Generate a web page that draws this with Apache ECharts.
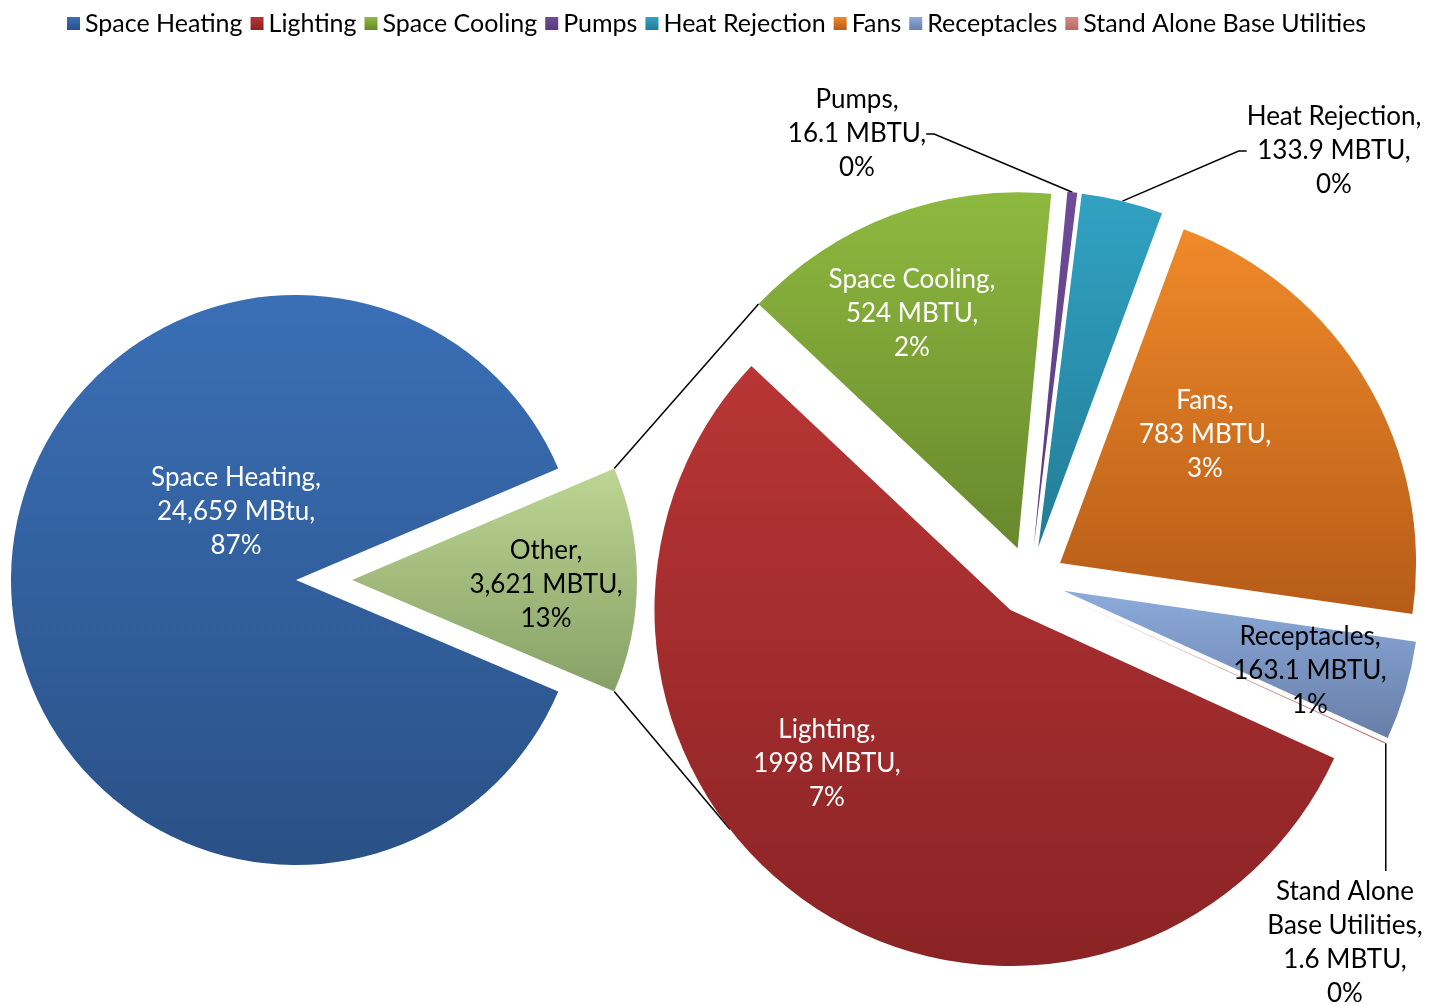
<!DOCTYPE html>
<html>
<head>
<meta charset="utf-8">
<script src="https://cdn.jsdelivr.net/npm/echarts@6/dist/echarts.min.js"></script>
<style>
html, body { margin: 0; padding: 0; background: #fff; }
#main { width: 1447px; height: 1005px; }
</style>
</head>
<body>
<div id="main"></div>
<script>
// main pie (clockwise from 3 o'clock: Other, then Space Heating)
var mainNames = ['Other', 'Space Heating'];
var mainValues = [3621, 24659];
var mainUnits = ['MBTU', 'MBtu'];

// breakdown of "Other" (clockwise, as drawn)
var otherNames = ['Space Cooling', 'Pumps', 'Heat Rejection', 'Fans', 'Receptacles', 'Stand Alone Base Utilities', 'Lighting'];
var otherValues = [524, 16.1, 133.9, 783, 163.1, 1.6, 1998];

var legendNames = ['Space Heating', 'Lighting', 'Space Cooling', 'Pumps', 'Heat Rejection', 'Fans', 'Receptacles', 'Stand Alone Base Utilities'];

// layout
var FONT = "'Gill Sans', Lato, sans-serif";
var leftCenter = [296, 580], leftR = 285, otherOffset = 56;
var rightCenter = [1030, 581], rightR = 356, rightOffset = 35, rightStart = 136.7;
var bottomLinkAngle = 218;

var colors = {
    'Space Heating': ['#3a6fb6', '#2a5186'],
    'Other': ['#bdd693', '#87a066'],
    'Lighting': ['#b93535', '#8a2325'],
    'Space Cooling': ['#8eb93f', '#68882d'],
    'Pumps': ['#6e4c98', '#583b7e'],
    'Heat Rejection': ['#31a2c2', '#227d97'],
    'Fans': ['#f08a2a', '#b65c18'],
    'Receptacles': ['#8cabdb', '#687ea8'],
    'Stand Alone Base Utilities': ['#d48a8a', '#b86a6a']
};
var whiteText = ['Space Heating', 'Lighting', 'Space Cooling', 'Fans'];
var outsideLabels = ['Pumps', 'Heat Rejection', 'Stand Alone Base Utilities'];
var verticalLeader = ['Stand Alone Base Utilities'];
var labelPos = {
    'Space Heating': [236, 512],
    'Other': [546, 585],
    'Lighting': [827, 764],
    'Space Cooling': [912, 314],
    'Pumps': [857, 134],
    'Heat Rejection': [1334, 151],
    'Fans': [1205, 435],
    'Receptacles': [1310, 671],
    'Stand Alone Base Utilities': [1345, 943]
};

var grandTotal = mainValues[0] + mainValues[1];

function sum(arr) {
    return arr.reduce(function (a, b) { return a + b; }, 0);
}

function grad(name) {
    return {
        type: 'linear', x: 0, y: 0, x2: 0, y2: 1,
        colorStops: [{offset: 0, color: colors[name][0]}, {offset: 1, color: colors[name][1]}]
    };
}

function polar(c, r, deg) {
    var a = deg * Math.PI / 180;
    return [c[0] + r * Math.cos(a), c[1] - r * Math.sin(a)];
}

function blank(v) {
    return {
        value: v, name: '',
        itemStyle: {color: 'rgba(0,0,0,0)'},
        label: {show: false}, labelLine: {show: false}
    };
}

// one pie series per slice, so each slice can be pulled out on its own
function sliceSeries(names, values, k, center, r, start, offset, unitFn) {
    var total = sum(values);
    var before = sum(values.slice(0, k));
    var after = sum(values.slice(k + 1));
    var mid = start - 360 * (before + values[k] / 2) / total;
    var c = polar(center, offset, mid);
    var n = names[k];
    var outside = outsideLabels.indexOf(n) >= 0;
    return {
        type: 'pie',
        center: c,
        radius: r,
        startAngle: start,
        clockwise: true,
        silent: true,
        avoidLabelOverlap: false,
        emphasis: {disabled: true},
        label: {
            show: true,
            position: outside ? 'outside' : 'inside',
            color: whiteText.indexOf(n) >= 0 ? '#fff' : '#000',
            fontFamily: FONT,
            fontSize: 26,
            lineHeight: 34,
            formatter: function (p) {
                return p.name.replace('Stand Alone ', 'Stand Alone\n') + ',\n' + unitFn(p.value, k) + ',\n' +
                    Math.round(p.value / grandTotal * 100) + '%';
            }
        },
        labelLine: {show: outside, length: 10, length2: 8, lineStyle: {color: '#000', width: 1.5}},
        labelLayout: function (params) {
            var p = labelPos[n];
            var res = {x: p[0], y: p[1], align: 'center', verticalAlign: 'middle'};
            if (verticalLeader.indexOf(n) >= 0) {
                var edge = polar(c, r, mid);
                var top = p[1] - params.labelRect.height / 2 - 4;
                res.labelLinePoints = [edge, [edge[0], (edge[1] + top) / 2], [edge[0], top]];
            }
            return res;
        },
        data: [blank(before), {name: n, value: values[k], itemStyle: {color: grad(n)}}, blank(after)]
    };
}

var series = [];
var mainStart = 360 * mainValues[0] / grandTotal / 2;
series.push(sliceSeries(mainNames, mainValues, 1, leftCenter, leftR, mainStart, 0,
    function (v, k) { return v.toLocaleString('en-US') + ' ' + mainUnits[k]; }));
series.push(sliceSeries(mainNames, mainValues, 0, leftCenter, leftR, mainStart, otherOffset,
    function (v, k) { return v.toLocaleString('en-US') + ' ' + mainUnits[k]; }));
for (var i = 0; i < otherNames.length; i++) {
    series.push(sliceSeries(otherNames, otherValues, i, rightCenter, rightR, rightStart, rightOffset,
        function (v) { return v + ' MBTU'; }));
}

// connector lines between the two pies
var otherAngle = 360 * mainValues[0] / grandTotal;
var oc = polar(leftCenter, otherOffset, 0);
var topA = polar(oc, leftR, otherAngle / 2);
var botA = polar(oc, leftR, -otherAngle / 2);
var sumOther = sum(otherValues);
var scAngle = 360 * otherValues[0] / sumOther;
var scCenter = polar(rightCenter, rightOffset, rightStart - scAngle / 2);
var topB = polar(scCenter, rightR, rightStart);
var lightAngle = 360 * otherValues[6] / sumOther;
var lightCenter = polar(rightCenter, rightOffset, rightStart + lightAngle / 2);
var botB = polar(lightCenter, rightR, bottomLinkAngle);

var chart = echarts.init(document.getElementById('main'));
var option = {
    backgroundColor: '#fff',
    animation: false,
    legend: {
        data: legendNames,
        top: 6,
        left: 62,
        icon: 'rect',
        itemWidth: 13,
        itemHeight: 13,
        itemGap: 8,
        selectedMode: false,
        textStyle: {fontFamily: FONT, fontSize: 25, color: '#000'}
    },
    graphic: [
        {type: 'line', shape: {x1: topA[0], y1: topA[1], x2: topB[0], y2: topB[1]}, style: {stroke: '#000', lineWidth: 1.5}},
        {type: 'line', shape: {x1: botA[0], y1: botA[1], x2: botB[0], y2: botB[1]}, style: {stroke: '#000', lineWidth: 1.5}}
    ],
    series: series
};
chart.setOption(option);
</script>
</body>
</html>
